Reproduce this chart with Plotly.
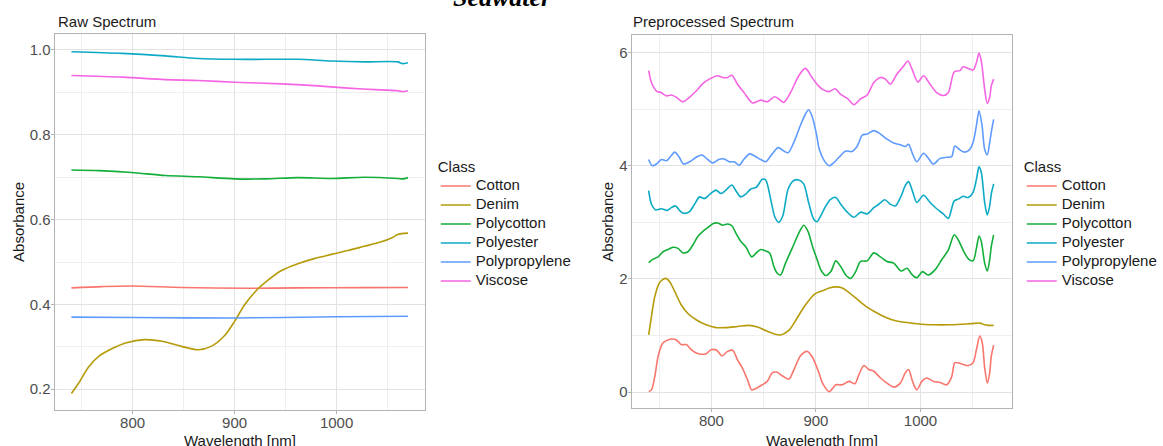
import plotly.graph_objects as go

# ---- class names and colours ----
classes = ["Cotton", "Denim", "Polycotton", "Polyester", "Polypropylene", "Viscose"]
colors = ["#F8766D", "#B59B0A", "#13AF3A", "#0DAAC6", "#5F9BFF", "#F564E3"]

# ---- raw absorbance spectra ----
raw_wl_cotton = [740, 770, 799, 848, 913, 962, 1027, 1070]
raw_cotton = [0.439, 0.442, 0.4435, 0.440, 0.438, 0.439, 0.4395, 0.440]

raw_wl_denim = [740, 747, 757, 767, 780, 793, 812, 829, 848, 864, 877, 890, 900, 910,
                923, 930, 946, 962, 978, 995, 1011, 1027, 1043, 1055, 1060, 1070]
raw_denim = [0.190, 0.214, 0.253, 0.278, 0.296, 0.309, 0.317, 0.313, 0.301, 0.293, 0.301,
             0.326, 0.360, 0.400, 0.437, 0.452, 0.480, 0.496, 0.508, 0.518, 0.527, 0.537,
             0.547, 0.558, 0.565, 0.568]

raw_wl_polycotton = [740, 767, 799, 832, 864, 900, 930, 962, 995, 1027, 1060, 1065, 1070]
raw_polycotton = [0.717, 0.7155, 0.711, 0.704, 0.701, 0.696, 0.696, 0.699, 0.697, 0.700,
                  0.697, 0.696, 0.699]

raw_wl_polyester = [740, 790, 832, 864, 900, 930, 962, 995, 1027, 1060, 1064, 1070]
raw_polyester = [0.996, 0.992, 0.986, 0.980, 0.978, 0.978, 0.978, 0.974, 0.972, 0.972,
                 0.968, 0.970]

raw_wl_polypropylene = [740, 800, 900, 1000, 1070]
raw_polypropylene = [0.370, 0.369, 0.368, 0.371, 0.372]

raw_wl_viscose = [740, 790, 832, 864, 900, 946, 978, 1011, 1043, 1060, 1064, 1070]
raw_viscose = [0.940, 0.936, 0.930, 0.928, 0.924, 0.920, 0.916, 0.910, 0.906, 0.904,
               0.902, 0.904]

# ---- preprocessed spectra (offset per class) ----
pre_wl_cotton = [740, 742.7, 745.9, 749, 753.2, 757, 761.7, 766.5, 771.2, 776, 780.7, 785.5,
                 790.2, 795, 799.7, 805.1, 810.1, 815.5, 820.3, 825, 829.8, 834.5, 838.6,
                 843, 848.7, 853.5, 858.2, 863, 867.7, 874.1, 878.8, 885.1, 891.5, 896.2,
                 902.5, 906.3, 912.7, 919, 925.3, 931.6, 937.3, 941.1, 945.9, 950.6, 955.4,
                 961.7, 968, 974.4, 980.7, 985.4, 988.6, 992.4, 996.5, 1001.3, 1006, 1012.4,
                 1018.7, 1025, 1029.8, 1032.9, 1037.7, 1040.8, 1045.6, 1050.3, 1053.5,
                 1056.7, 1059.2, 1061.4, 1063.9, 1066.2, 1067.7, 1070]
pre_cotton = [0.01, 0.04, 0.28, 0.63, 0.86, 0.91, 0.94, 0.92, 0.84, 0.84, 0.75, 0.69,
              0.67, 0.68, 0.75, 0.74, 0.64, 0.72, 0.74, 0.57, 0.42, 0.22, 0.04,
              0.07, 0.13, 0.19, 0.34, 0.35, 0.29, 0.23, 0.39, 0.64, 0.72, 0.63,
              0.36, 0.16, 0.01, 0.13, 0.13, 0.19, 0.15, 0.31, 0.47, 0.40, 0.37,
              0.25, 0.16, 0.09, 0.16, 0.34, 0.40, 0.19, 0.04, 0.19, 0.25, 0.19,
              0.17, 0.13, 0.27, 0.52, 0.51, 0.49, 0.47, 0.52, 0.75,
              0.99, 0.86, 0.43, 0.16, 0.34, 0.63, 0.83]

pre_wl_denim = [740, 742.7, 745.9, 750.6, 756.3, 760.1, 764.9, 771.2, 777.5, 785.4, 794.9,
                804.4, 813.9, 825, 836.1, 844, 851.9, 859.8, 866.2, 874.1, 882, 889.9,
                899.4, 906.3, 912.7, 919, 925.3, 931.6, 939.6, 947.5, 955.4, 963.3, 972.8,
                982.3, 991.8, 1001.3, 1013.9, 1026.6, 1039.3, 1048.7, 1056.7, 1061.4,
                1064.6, 1070]
pre_denim = [1.01, 1.34, 1.69, 1.94, 2.01, 1.95, 1.78, 1.54, 1.39, 1.28, 1.19,
             1.14, 1.14, 1.16, 1.18, 1.15, 1.09, 1.03, 1.01, 1.09, 1.31, 1.54,
             1.74, 1.79, 1.84, 1.86, 1.84, 1.76, 1.64, 1.52, 1.43, 1.35, 1.28,
             1.24, 1.22, 1.20, 1.19, 1.19, 1.20, 1.21, 1.22, 1.19, 1.18, 1.18]

pre_wl_polycotton = [740, 744.3, 749, 753.8, 758.5, 763.3, 768, 772.8, 777.5, 782.3, 787,
                     792.4, 797.4, 801.8, 806, 810.7, 815.5, 819.6, 823.4, 828.2, 832.9,
                     838.6, 843, 847.2, 851.3, 855.7, 859.8, 863, 866.2, 870.9, 877.2,
                     883.6, 888.3, 892.4, 896.8, 901, 905, 909.5, 914.3, 919, 923.7, 928.5,
                     933.2, 938, 942.7, 949, 955.4, 961.7, 968, 974.4, 981.6, 987, 991.8,
                     996.5, 1001.9, 1007.6, 1013.9, 1020.3, 1026.6, 1032.3, 1036.1, 1040.8,
                     1045.6, 1050.3, 1053.5, 1056, 1058.2, 1061.4, 1063.9, 1066.2, 1067.7,
                     1070]
pre_polycotton = [2.29, 2.35, 2.39, 2.48, 2.52, 2.56, 2.54, 2.46, 2.48, 2.60, 2.75,
                  2.85, 2.92, 2.98, 2.99, 2.95, 2.97, 2.94, 2.81, 2.66, 2.57,
                  2.39, 2.46, 2.52, 2.50, 2.46, 2.22, 2.10, 2.07, 2.28, 2.54,
                  2.81, 2.95, 2.84, 2.57, 2.35, 2.15, 2.06, 2.13, 2.32, 2.22, 2.07,
                  2.01, 2.13, 2.31, 2.32, 2.46, 2.39, 2.31, 2.28, 2.14, 2.19, 2.08,
                  2.02, 2.13, 2.07, 2.16, 2.34, 2.51, 2.78, 2.69, 2.51,
                  2.36, 2.32, 2.54, 2.76, 2.66, 2.28, 2.14, 2.34, 2.57,
                  2.78]

pre_wl_polyester = [740, 742.7, 746.8, 752.2, 757.6, 761.7, 765.8, 769.6, 773.4, 779.1,
                    783.9, 788.6, 793.4, 798.7, 804.4, 809.2, 813.9, 819.6, 823.4, 828.2,
                    832.9, 837.7, 843, 848.7, 851.9, 856.7, 860.8, 864.6, 868.4, 873.4,
                    878.8, 883.6, 888.3, 893, 897.8, 900.9, 904.7, 909.5, 914.3, 919,
                    923.7, 930, 936.4, 942.7, 949, 955.4, 960.1, 965.8, 971.2, 976, 981.6,
                    985.4, 988.6, 992.7, 996.5, 1002.9, 1009.2, 1015.5, 1021.8, 1026.6,
                    1032.3, 1036.1, 1040.8, 1045.6, 1050.3, 1053.5, 1056, 1058.2, 1061.4,
                    1063.9, 1066.2, 1067.7, 1070]
pre_polyester = [3.56, 3.32, 3.22, 3.24, 3.21, 3.26, 3.29, 3.21, 3.16, 3.19,
                 3.32, 3.45, 3.42, 3.50, 3.57, 3.51, 3.57, 3.66, 3.56, 3.45,
                 3.50, 3.59, 3.62, 3.76, 3.75, 3.41, 3.09, 3.00, 3.12, 3.59,
                 3.74, 3.75, 3.68, 3.35, 3.06, 3.01, 3.12, 3.29, 3.41, 3.44,
                 3.32, 3.18, 3.09, 3.18, 3.15, 3.26, 3.32, 3.40, 3.32, 3.29, 3.47,
                 3.65, 3.72, 3.53, 3.35, 3.48, 3.35, 3.24, 3.15, 3.07,
                 3.38, 3.41, 3.46, 3.44, 3.53, 3.76, 3.98, 3.88, 3.35,
                 3.13, 3.29, 3.50, 3.68]

pre_wl_polypropylene = [740, 743.4, 747.5, 752.2, 757, 761.7, 764.9, 769, 773.4, 779.1,
                        785.4, 791.1, 795.9, 801.3, 807, 812.3, 817.1, 821.8, 826.6,
                        831.3, 836.7, 842.4, 847.2, 852, 858.2, 863.9, 869.3, 873.4,
                        878.8, 885.1, 889.9, 893, 896.2, 900.5, 903.2, 907.9, 912.7,
                        917.4, 922.1, 928.5, 934.2, 939.6, 944.3, 949, 955.4, 961.7, 968,
                        974.4, 980.7, 985.4, 988.6, 992.4, 996.5, 1002.9, 1007.6, 1012.4,
                        1018.7, 1025, 1029.8, 1032.9, 1037.7, 1042.4, 1047.2, 1050.3,
                        1053.5, 1056, 1058.9, 1061.4, 1063.9, 1066.2, 1067.7, 1070]
pre_polypropylene = [4.11, 4.00, 4.03, 4.11, 4.09, 4.18, 4.24, 4.16, 4.03, 4.07,
                     4.15, 4.19, 4.12, 4.05, 4.11, 4.12, 4.07, 4.07, 4.01,
                     4.12, 4.21, 4.16, 4.11, 4.07, 4.21, 4.32, 4.26, 4.23,
                     4.41, 4.71, 4.91, 4.99, 4.88, 4.56, 4.29, 4.09, 4.00,
                     4.06, 4.15, 4.26, 4.25, 4.35, 4.54, 4.56, 4.62, 4.56, 4.47,
                     4.40, 4.37, 4.34, 4.38, 4.21, 4.07, 4.22, 4.13, 4.03,
                     4.13, 4.15, 4.16, 4.35, 4.28, 4.24, 4.29, 4.41,
                     4.71, 4.97, 4.71, 4.29, 4.19, 4.41, 4.59, 4.82]

pre_wl_viscose = [740, 742.7, 747.5, 752.2, 757, 761.7, 766.5, 772.8, 779, 785.4, 791.8,
                  798, 806, 810.8, 815.5, 819.6, 825, 831.3, 839.3, 847.2, 853.5, 860.5,
                  864.6, 869.3, 875.6, 883.6, 889.9, 896.2, 902, 906.3, 912.7, 918.3,
                  923.7, 930, 936.4, 942.7, 949, 955.4, 961.7, 966.5, 971.2, 977.5, 983.8,
                  988, 991.8, 997.5, 1002.9, 1009.2, 1015.5, 1021.8, 1026.6, 1032.3,
                  1037.7, 1040.8, 1045.6, 1050.3, 1053.5, 1056, 1058.2, 1061.4, 1063.9,
                  1066.2, 1067.7, 1070]
pre_viscose = [5.68, 5.47, 5.32, 5.29, 5.235, 5.25, 5.21, 5.13, 5.21, 5.32, 5.45,
               5.53, 5.59, 5.56, 5.56, 5.60, 5.44, 5.29, 5.11, 5.16, 5.13, 5.22,
               5.18, 5.12, 5.29, 5.59, 5.72, 5.56, 5.42, 5.35, 5.31, 5.36,
               5.26, 5.19, 5.08, 5.18, 5.25, 5.47, 5.56, 5.53, 5.44, 5.62, 5.76,
               5.85, 5.71, 5.48, 5.59, 5.44, 5.29, 5.24, 5.29, 5.66,
               5.68, 5.75, 5.72, 5.69, 5.82, 5.99, 5.85, 5.35, 5.10,
               5.21, 5.41, 5.53]

raw_series = [(raw_wl_cotton, raw_cotton), (raw_wl_denim, raw_denim),
              (raw_wl_polycotton, raw_polycotton), (raw_wl_polyester, raw_polyester),
              (raw_wl_polypropylene, raw_polypropylene), (raw_wl_viscose, raw_viscose)]
pre_series = [(pre_wl_cotton, pre_cotton), (pre_wl_denim, pre_denim),
              (pre_wl_polycotton, pre_polycotton), (pre_wl_polyester, pre_polyester),
              (pre_wl_polypropylene, pre_polypropylene), (pre_wl_viscose, pre_viscose)]

W, H = 1163, 446
FONT = "Liberation Sans, Arial, sans-serif"
TEXT = "#1A1A1A"


def px_x(x):
    return x / W


def px_y(y):
    return 1 - y / H


def legend_label(name):
    # 15px legend text on a compact (small-font) legend row pitch
    return f'<span style="font-size:15px">{name}</span>'


fig = go.Figure()
for name, col, (wx, wy) in zip(classes, colors, raw_series):
    fig.add_trace(go.Scatter(x=wx, y=wy, name=legend_label(name), mode="lines",
                             line=dict(color=col, width=1.6, shape="spline", smoothing=0.8),
                             xaxis="x", yaxis="y", legend="legend"))
for name, col, (wx, wy) in zip(classes, colors, pre_series):
    fig.add_trace(go.Scatter(x=wx, y=wy, name=legend_label(name), mode="lines",
                             line=dict(color=col, width=1.6, shape="spline", smoothing=0.8),
                             xaxis="x2", yaxis="y2", legend="legend2"))

grid = "#E3E3E3"
minor_grid = "#EFEFEF"
border = "#B3B3B3"
tickfont = dict(family=FONT, size=15, color="#4D4D4D")
common = dict(showline=True, mirror=True, linecolor=border, linewidth=1.3,
              showgrid=True, gridcolor=grid, gridwidth=1, zeroline=False,
              ticks="outside", ticklen=3, tickcolor=border, tickfont=tickfont)


def minor(vals):
    return dict(tickvals=vals, showgrid=True, gridcolor=minor_grid, gridwidth=0.8, ticks="")


legend_common = dict(xanchor="left", yanchor="top",
                     title=dict(text="Class", font=dict(family=FONT, size=15, color=TEXT)),
                     font=dict(family=FONT, size=11, color=TEXT),
                     bgcolor="rgba(0,0,0,0)", borderwidth=0)

fig.update_layout(
    width=W, height=H,
    margin=dict(l=0, r=0, t=0, b=0),
    paper_bgcolor="white", plot_bgcolor="white",
    font=dict(family=FONT, color=TEXT),
    xaxis=dict(domain=[px_x(55), px_x(427)], range=[723.6, 1086.5],
               tickmode="array", tickvals=[800, 900, 1000], ticklabelstandoff=-4,
               minor=minor([750, 850, 950, 1050]), anchor="y", **common),
    yaxis=dict(domain=[px_y(410), px_y(34)], range=[0.151, 1.0377],
               tickmode="array", tickvals=[0.2, 0.4, 0.6, 0.8, 1.0],
               ticktext=["0.2", "0.4", "0.6", "0.8", "1.0"], ticklabelstandoff=-3,
               minor=minor([0.3, 0.5, 0.7, 0.9]), anchor="x", **common),
    xaxis2=dict(domain=[px_x(635), px_x(1017)], range=[723.8, 1087.3],
                tickmode="array", tickvals=[800, 900, 1000], ticklabelstandoff=-4,
                minor=minor([750, 850, 950, 1050]), anchor="y2", **common),
    yaxis2=dict(domain=[px_y(408), px_y(35)], range=[-0.28, 6.31],
                tickmode="array", tickvals=[0, 2, 4, 6], ticklabelstandoff=-3,
                minor=minor([1, 3, 5]), anchor="x2", **common),
    legend=dict(x=px_x(438), y=px_y(152), **legend_common),
    legend2=dict(x=px_x(1027), y=px_y(152), **legend_common),
    showlegend=True,
)

title_font = dict(family=FONT, size=15, color=TEXT)
annotations = [
    # overall heading, mostly above the top edge of the page
    dict(text="<b><i>Seawater</i></b>", x=px_x(505), y=px_y(-2), xref="paper", yref="paper",
         showarrow=False, xanchor="center", yanchor="middle",
         font=dict(family="Liberation Serif, Times New Roman, serif", size=26, color="black")),
    # panel titles
    dict(text="Raw Spectrum", x=px_x(56), y=px_y(21), xref="paper", yref="paper",
         showarrow=False, xanchor="left", yanchor="middle", font=title_font),
    dict(text="Preprocessed Spectrum", x=px_x(634), y=px_y(21), xref="paper", yref="paper",
         showarrow=False, xanchor="left", yanchor="middle", font=title_font),
    # axis titles
    dict(text="Wavelength [nm]", x=px_x(241), y=px_y(440), xref="paper", yref="paper",
         showarrow=False, xanchor="center", yanchor="middle", font=title_font),
    dict(text="Wavelength [nm]", x=px_x(826), y=px_y(440), xref="paper", yref="paper",
         showarrow=False, xanchor="center", yanchor="middle", font=title_font),
    dict(text="Absorbance", x=px_x(18), y=px_y(222), xref="paper", yref="paper",
         showarrow=False, xanchor="center", yanchor="middle", textangle=-90, font=title_font),
    dict(text="Absorbance", x=px_x(610), y=px_y(222), xref="paper", yref="paper",
         showarrow=False, xanchor="center", yanchor="middle", textangle=-90, font=title_font),
]
fig.update_layout(annotations=annotations)

fig.write_html("out.html")
